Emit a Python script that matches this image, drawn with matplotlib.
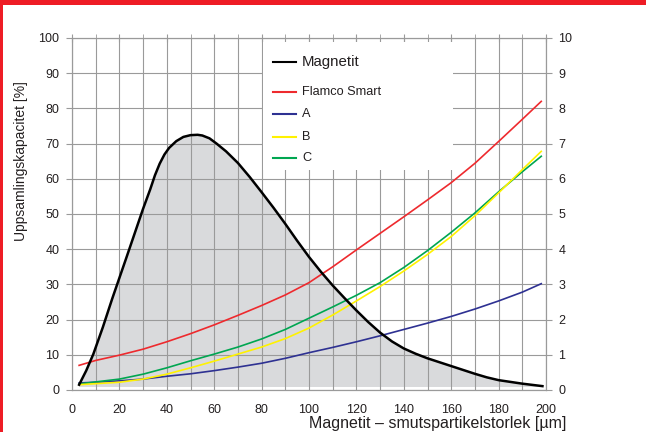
import matplotlib
matplotlib.use("Agg")
import matplotlib.pyplot as plt
from matplotlib.patches import Rectangle

plt.rcParams['font.family'] = ['Liberation Sans', 'DejaVu Sans']

# Magnetit - distribution (left axis, %)
mag_x = [3, 6, 9, 13, 17, 23, 30, 33, 35, 37, 39, 41, 44, 47, 50, 53, 55, 58, 61, 65, 70, 75, 80,
         85, 90, 95, 100, 105, 110, 115, 120, 125, 130, 135, 140, 145, 150, 155, 160, 165, 170,
         175, 180, 185, 190, 198.5]
mag_y = [1.5, 5.5, 10.2, 17.8, 26, 37.7, 51.5, 57, 61, 64.3, 66.9, 68.8, 70.7, 71.9, 72.4, 72.5, 72.3, 71.5, 70, 67.8, 64.5, 60.5, 56.2,
         51.8, 47.2, 42.4, 37.8, 33.6, 29.7, 26.1, 22.6, 19.3, 16.3, 13.8, 11.8, 10.3, 9.0, 7.9, 6.8, 5.7, 4.6,
         3.6, 2.8, 2.3, 1.8, 1.1]

# collection curves, x positions shared
sx = [3, 10, 20, 30, 40, 50, 60, 70, 80, 90, 100, 110, 120, 130, 140, 150, 160, 170, 180, 190, 198]
flamco = [7.0, 8.4, 9.9, 11.6, 13.7, 16.0, 18.5, 21.2, 24.0, 27.0, 30.5, 35.0, 39.8, 44.5, 49.2, 54.0, 58.9, 64.4, 70.6, 76.9, 82.0]
ser_a = [2.0, 2.2, 2.6, 3.1, 3.9, 4.6, 5.5, 6.5, 7.6, 9.0, 10.6, 12.1, 13.7, 15.4, 17.2, 19.0, 20.9, 23.0, 25.3, 27.8, 30.2]
ser_b = [1.5, 1.8, 2.2, 3.1, 4.5, 6.3, 8.2, 10.2, 12.2, 14.6, 17.6, 21.3, 25.3, 29.4, 33.8, 38.5, 43.6, 49.5, 56.0, 62.6, 67.8]
ser_c = [1.7, 2.3, 3.1, 4.5, 6.3, 8.3, 10.2, 12.2, 14.5, 17.2, 20.4, 23.6, 26.9, 30.5, 34.8, 39.6, 44.8, 50.3, 56.3, 62.0, 66.4]

labels = ["Magnetit", "Flamco Smart", "A", "B", "C"]
colors = ["#000000", "#ee2a2e", "#2e3192", "#fff200", "#00a651"]

grey = "#9a9a9a"
txt = "#231f20"

fig = plt.figure(figsize=(6.46, 4.32), dpi=100)
ax = fig.add_axes([72/646, 42/432, 474/646, 352/432])

ax.fill_between(mag_x, mag_y, 1.0, color="#d9dadc", lw=0, zorder=1)
ax.plot(sx, flamco, color=colors[1], lw=1.2, zorder=2)
ax.plot(sx, ser_a, color=colors[2], lw=1.2, zorder=2)
ax.plot(sx, ser_c, color=colors[4], lw=1.2, zorder=2)
ax.plot(sx, ser_b, color=colors[3], lw=1.2, zorder=2)
ax.plot(mag_x, mag_y, color=colors[0], lw=1.8, zorder=3)

ax.set_xlim(0, 200)
ax.set_ylim(0, 100)
ax.set_xticks(range(0, 201, 20))
ax.set_xticks(range(10, 200, 20), minor=True)
ax.set_yticks(range(0, 101, 10))
ax.grid(True, which="both", color=grey, lw=0.8)
ax.tick_params(axis="x", which="both", bottom=False, top=True, direction="inout",
               length=6, color=grey, labelsize=9, labelcolor=txt, pad=7)
ax.tick_params(axis="y", direction="out", length=4, color=grey, labelsize=9,
               labelcolor=txt, pad=5)
for s in ax.spines.values():
    s.set_color(grey)
    s.set_linewidth(0.8)

ax2 = ax.twinx()
ax2.set_ylim(0, 10)
ax2.set_yticks(range(0, 11))
ax2.tick_params(axis="y", direction="out", length=4, color=grey, labelsize=9,
                labelcolor=txt, pad=5)
for s in ax2.spines.values():
    s.set_color(grey)
    s.set_linewidth(0.8)

ax.set_ylabel("Uppsamlingskapacitet [%]", fontsize=10, color=txt)
ax.yaxis.set_label_coords(-0.093, 0.65)
ax.text(1.042, -0.094, "Magnetit – smutspartikelstorlek [µm]", transform=ax.transAxes,
        ha="right", va="center", fontsize=11.5, color=txt)

# legend box
ax.add_patch(Rectangle((0.403, 0.625), 0.401, 0.364, transform=ax.transAxes,
                       facecolor="white", edgecolor="none", zorder=1.8))
rows = [0.932, 0.847, 0.784, 0.719, 0.659]
sizes = [10.8, 9.2, 9.2, 9.2, 9.2]
for lab, col, yy, fs in zip(labels, colors, rows, sizes):
    ax.plot([0.424, 0.473], [yy, yy], color=col, lw=1.5, transform=ax.transAxes, zorder=4)
    ax.text(0.485, yy, lab, transform=ax.transAxes, va="center", ha="left",
            fontsize=fs, color=txt, zorder=4)

# red frame
fig.patches.append(Rectangle((0, 1 - 5/432), 1, 5/432, transform=fig.transFigure,
                             facecolor="#ee1c25", edgecolor="none"))
fig.patches.append(Rectangle((0, 0), 3/646, 1, transform=fig.transFigure,
                             facecolor="#ee1c25", edgecolor="none"))

fig.savefig("out.png", dpi=100)
